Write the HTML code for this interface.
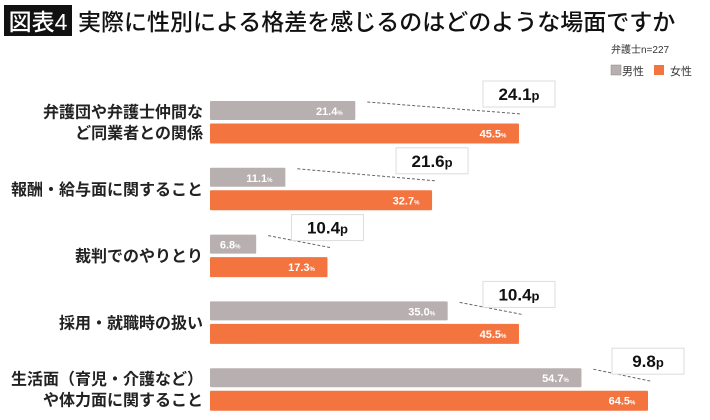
<!DOCTYPE html>
<html><head><meta charset="utf-8">
<style>
body{margin:0;width:710px;height:415px;background:#fff;overflow:hidden;font-family:"Liberation Sans","Noto Sans CJK JP",sans-serif;}
svg text{font-family:"Liberation Sans","Noto Sans CJK JP",sans-serif;}
</style></head>
<body>
<svg id="chart" width="710" height="415" xmlns="http://www.w3.org/2000/svg">
<rect x="4" y="5" width="68" height="31" fill="#111"/>
<text x="38" y="30" font-size="23" font-weight="500" fill="#fff" text-anchor="middle">図表4</text>
<text x="78" y="30" font-size="23" font-weight="500" fill="#111">実際に性別による格差を感じるのはどのような場面ですか</text>
<text x="611" y="53" font-size="10" fill="#333">弁護士n=227</text>
<rect x="611" y="65" width="10" height="10" fill="#b8b0b0" stroke="#888" stroke-width="0.5"/>
<text x="622" y="75" font-size="11" fill="#333">男性</text>
<rect x="654" y="65" width="10" height="10" fill="#f47440"/>
<text x="670" y="75" font-size="11" fill="#333">女性</text>
<g id="marks"></g>
</svg>
<script>
const categories=[["弁護団や弁護士仲間な","ど同業者との関係"],["報酬・給与面に関すること"],["裁判でのやりとり"],["採用・就職時の扱い"],["生活面（育児・介護など）","や体力面に関すること"]];
const maleValues=[21.4,11.1,6.8,35.0,54.7];
const femaleValues=[45.5,32.7,17.3,45.5,64.5];
const gapLabels=["24.1p","21.6p","10.4p","10.4p","9.8p"];
const x0=210, pxPer=438/64.5, top0=101, step=66.8, barH=19;
const xs=v=>x0+v*pxPer;
const g=document.getElementById('marks');
const NS="http://www.w3.org/2000/svg";
function mk(tag,attrs,txt){const e=document.createElementNS(NS,tag);for(const k in attrs)e.setAttribute(k,attrs[k]);if(txt!==undefined)e.textContent=txt;g.appendChild(e);return e;}
categories.forEach((cat,i)=>{
  const my=top0+i*step, fy=my+22.5;
  const mx=xs(maleValues[i]), fx=xs(femaleValues[i]);
  const cy=my+21;
  cat.forEach((line,j)=>{
    const t=mk('text',{x:203,y:cy+6+(j-(cat.length-1)/2)*21,'font-size':16,'font-weight':'bold','text-anchor':'end',fill:'#222'},line);
    
    
  });
  const mb=mk('rect',{x:x0,y:my,width:mx-x0,height:barH,fill:'#b8b0b0',rx:1});
  
  
  const fb=mk('rect',{x:x0,y:fy,width:fx-x0,height:barH+1,fill:'#f47440',rx:1});
  
  
  const mt=mk('text',{x:mx-26,y:my+14,'font-size':11,'font-weight':'bold',fill:'#fff','text-anchor':'middle'});
  mt.innerHTML=maleValues[i].toFixed(1)+'<tspan font-size="6">%</tspan>';
  
  
  const ft=mk('text',{x:fx-26,y:fy+14,'font-size':11,'font-weight':'bold',fill:'#fff','text-anchor':'middle'});
  ft.innerHTML=femaleValues[i].toFixed(1)+'<tspan font-size="6">%</tspan>';
  
  
  const ln=mk('line',{x1:mx+12,y1:my+1,x2:fx+3,y2:my+13,stroke:'#666','stroke-width':1,'stroke-dasharray':'3,2'});
  
  
  const bx=mk('rect',{x:fx-36,y:my-20,width:72,height:26,fill:'#fff',stroke:'#ddd','stroke-width':1});
  
  
  const gt=mk('text',{x:fx,y:my-1,'font-size':17,'font-weight':'bold',fill:'#111','text-anchor':'middle'});
  const num=gapLabels[i].replace('p','');
  gt.innerHTML=num+'<tspan font-size="13">p</tspan>';
  
  
});
</script>
</body></html>
